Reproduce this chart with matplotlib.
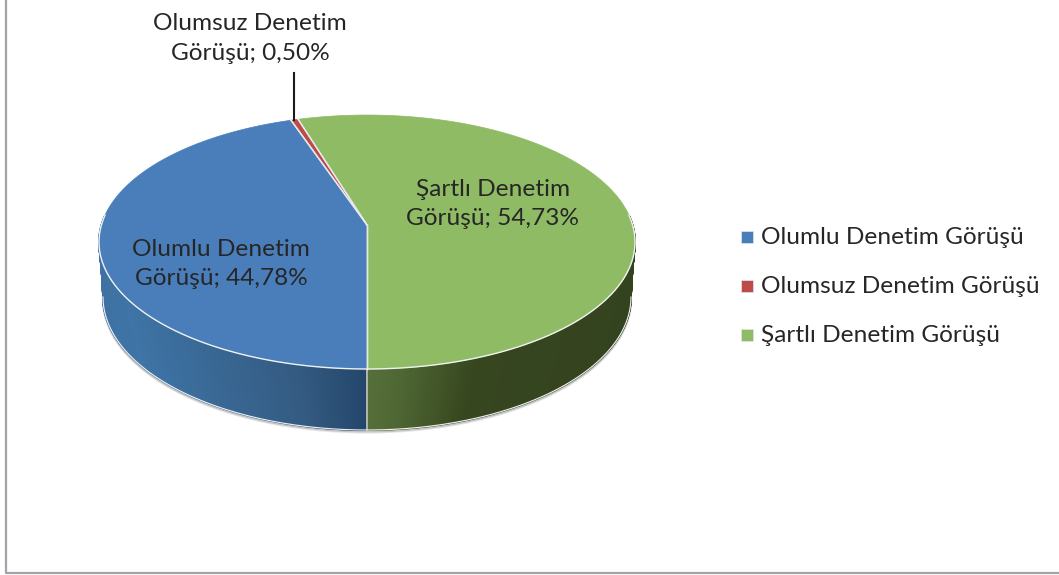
import numpy as np
import matplotlib
matplotlib.use("Agg")
import matplotlib.pyplot as plt
from matplotlib.colors import to_rgb
from matplotlib.patches import Polygon, Rectangle

labels = ["Olumlu Denetim Görüşü", "Olumsuz Denetim Görüşü", "Şartlı Denetim Görüşü"]
values = [44.78, 0.50, 54.73]
colors = ["#4a7ebb", "#be4b48", "#8fbb64"]
data_labels = ["Olumlu Denetim\nGörüşü; 44,78%", "Olumsuz Denetim\nGörüşü; 0,50%", "Şartlı Denetim\nGörüşü; 54,73%"]

W, H = 1059, 575
FS = 17.55
plt.rcParams["font.family"] = ["Lato", "DejaVu Sans"]


def top_rim(theta):
    # angle measured clockwise from the back of the disc, with some perspective
    u, v = np.sin(theta), np.cos(theta)
    d = 1 + 0.134 * v
    return 367 + 265.6 * u / d, 225 - 124.7 * v / d


def bottom_rim(theta):
    return 367 + 264 * np.sin(theta), 297 - 133 * np.cos(theta)


def side_strips(ax, t0, t1, stops_x, stops_c):
    ts = np.linspace(t0, t1, 220)
    rgb = np.array([to_rgb(c) for c in stops_c])
    for a, b in zip(ts[:-1], ts[1:]):
        tt = np.linspace(a, b, 3)
        xt, yt = top_rim(tt)
        xb, yb = bottom_rim(tt)
        xm = (xt.mean() + xb.mean()) / 2
        c = [np.interp(xm, stops_x, rgb[:, i]) for i in range(3)]
        pts = np.r_[np.c_[xt, yt], np.c_[xb, yb][::-1]]
        ax.add_patch(Polygon(pts, closed=True, fc=c, ec=c, lw=1.2, zorder=2))


fig = plt.figure(figsize=(W / 100, H / 100), dpi=100)
ax = fig.add_axes([0, 0, 1, 1])
ax.set_xlim(0, W)
ax.set_ylim(H, 0)
ax.axis("off")

# chart frame
ax.plot([5.5, 5.5, W], [0, 572.5, 572.5], color="#a2a2a8", lw=1.6, zorder=1)

# soft shadow under the side wall
ts = np.linspace(np.pi / 2, 3 * np.pi / 2, 200)
xs, ys = bottom_rim(ts)
for off, col in [(2.4, "#e6e6e6"), (1.4, "#c4c4c4")]:
    ax.plot(xs, ys + off, color=col, lw=1.6, zorder=1)

# side wall, blue part on the left of the seam, green on the right
side_strips(ax, np.pi, 3 * np.pi / 2 + 0.08, [100, 135, 300, 366], ["#3f72a3", "#3e74a6", "#345b82", "#24466b"])
side_strips(ax, np.pi / 2 - 0.08, np.pi, [368, 400, 470, 640], ["#566f3a", "#4e6633", "#36461f", "#34431f"])
xt, yt = top_rim(np.pi)
xb, yb = bottom_rim(np.pi)
ax.plot([xt, xb], [yt, yb], color="#c8ccc8", lw=1.1, zorder=3)
ax.plot(xs, ys, color="#f2f2f2", lw=0.8, zorder=3)

# top face, first slice starts at the front of the pie
start = np.pi
for val, col in zip(values, colors):
    span = 2 * np.pi * val / sum(values)
    tt = np.linspace(start, start + span, 300)
    x, y = top_rim(tt)
    pts = np.r_[[[367, 225]], np.c_[x, y]]
    ax.add_patch(Polygon(pts, closed=True, fc=col, ec=col, lw=0.5, zorder=4))
    # light seams from the centre to the rim
    ax.plot([367, x[0]], [225, y[0]], color="#e4e8ec", lw=1.0, zorder=5)
    ax.plot([367, x[-1]], [225, y[-1]], color="#e4e8ec", lw=1.0, zorder=5)
    start += span

# white highlight only along the front rim of the top face
tf = np.linspace(np.pi / 2 - 0.08, 3 * np.pi / 2 + 0.08, 300)
xf, yf = top_rim(tf)
ax.plot(xf, yf, color="#f0f2f0", lw=1.0, zorder=5)

# leader line for the small slice
ax.plot([293.5, 293.5], [120, 73], color="#1a1a1a", lw=1.5, zorder=6)

text_col = "#262626"
ax.text(221, 264, data_labels[0], ha="center", va="center", fontsize=FS, color=text_col, linespacing=1.52, zorder=7)
ax.text(250, 38.5, data_labels[1], ha="center", va="center", fontsize=FS, color=text_col, linespacing=1.52, zorder=7)
ax.text(493, 204, data_labels[2], ha="center", va="center", fontsize=FS, color=text_col, linespacing=1.52, zorder=7)

for lab, col, yc in zip(labels, colors, [237, 286, 335]):
    ax.add_patch(Rectangle((741, yc - 6), 12, 12, fc=col, ec="#dfe6ee", lw=0.5, zorder=5))
    ax.text(761, yc + 0.5, lab, ha="left", va="center", fontsize=FS, color=text_col, zorder=7)

fig.savefig("out.png", dpi=100)
